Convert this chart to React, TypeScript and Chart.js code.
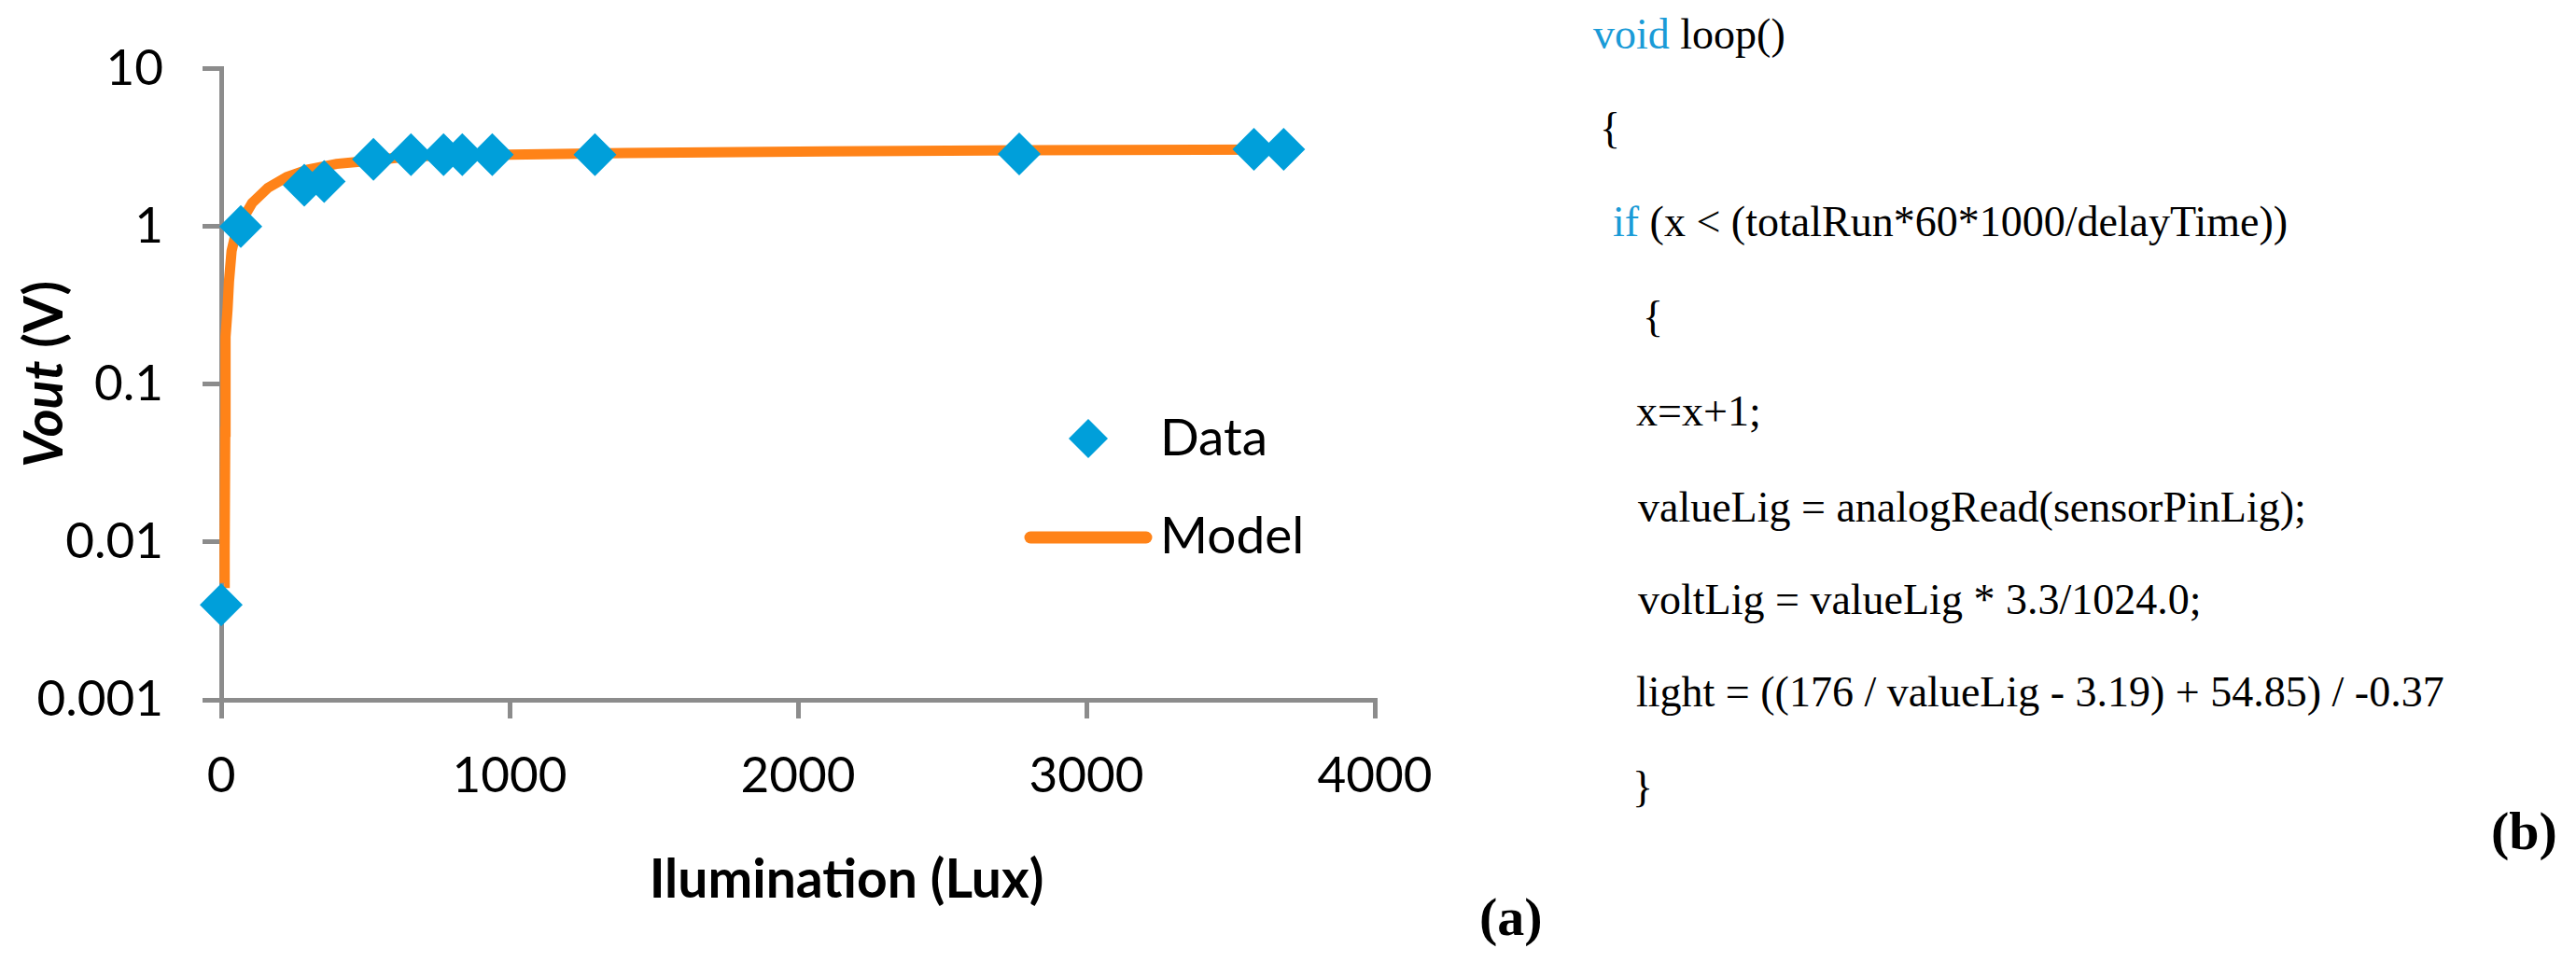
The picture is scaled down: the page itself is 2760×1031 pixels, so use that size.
import React, { useEffect, useRef } from 'react';
import { Chart, registerables } from 'chart.js';

Chart.register(...registerables);

// ---- data ----
const dataLux = [0, 68, 288, 357, 528, 658, 771, 836, 940, 1296, 2767, 3581, 3684];
const dataVout = [0.004, 1.0, 1.83, 1.93, 2.67, 2.86, 2.86, 2.86, 2.86, 2.86, 2.89, 3.09, 3.09];

const modelLux = [10, 12, 14, 15, 22, 27, 36, 50, 70, 107, 162, 227, 300, 400, 500, 650, 800, 1000, 1400, 2100, 2800, 3690];
const modelVout = [0.0055, 0.009, 0.05, 0.2, 0.3, 0.45, 0.7, 0.9, 1.08, 1.41, 1.76, 2.06, 2.3, 2.5, 2.6, 2.78, 2.83, 2.86, 2.93, 3.0, 3.05, 3.08];

const xTickValues = [0, 1000, 2000, 3000, 4000];
const xTickLabels = ['0', '1000', '2000', '3000', '4000'];
const yTickValues = [0.001, 0.01, 0.1, 1, 10];
const yTickLabels = ['0.001', '0.01', '0.1', '1', '10'];

const seriesNames = ['Data', 'Model'];
const xTitle = 'Ilumination (Lux)';
const yTitleItalic = 'Vout';
const yTitleRest = ' (V)';

const BLUE = '#009fda';
const ORANGE = '#ff8318';
const GREY = '#8c8c8c';

const codeLines: { x: number; y: number; parts: [string, boolean][] }[] = [
  { x: 1707, y: 37, parts: [['void', true], [' loop()', false]] },
  { x: 1714, y: 138, parts: [['{', false]] },
  { x: 1728, y: 238, parts: [['if', true], [' (x < (totalRun*60*1000/delayTime))', false]] },
  { x: 1760, y: 340, parts: [['{', false]] },
  { x: 1753, y: 441, parts: [['x=x+1;', false]] },
  { x: 1755, y: 544, parts: [['valueLig = analogRead(sensorPinLig);', false]] },
  { x: 1755, y: 643, parts: [['voltLig = valueLig * 3.3/1024.0;', false]] },
  { x: 1753, y: 742, parts: [['light = ((176 / valueLig - 3.19) + 54.85) / -0.37', false]] },
  { x: 1749, y: 844, parts: [['}', false]] },
];

const overlayPlugin = {
  id: 'overlay',
  afterDraw(chart: any) {
    const ctx = chart.ctx as CanvasRenderingContext2D;
    ctx.save();
    ctx.fillStyle = '#000';

    // X axis title
    ctx.font = 'bold 57px Lato';
    ctx.textAlign = 'center';
    ctx.textBaseline = 'alphabetic';
    ctx.fillText(xTitle, 907, 962);

    // Y axis title (rotated)
    ctx.save();
    ctx.translate(67, 401);
    ctx.rotate(-Math.PI / 2);
    ctx.font = 'italic bold 57px Lato';
    const w1 = ctx.measureText(yTitleItalic).width;
    ctx.font = 'bold 57px Lato';
    const w2 = ctx.measureText(yTitleRest).width;
    const start = -(w1 + w2) / 2;
    ctx.textAlign = 'left';
    ctx.font = 'italic bold 57px Lato';
    ctx.fillText(yTitleItalic, start, 0);
    ctx.font = 'bold 57px Lato';
    ctx.fillText(yTitleRest, start + w1, 0);
    ctx.restore();

    // Legend
    const ds = chart.data.datasets;
    ctx.fillStyle = ds[0].backgroundColor;
    const cx = 1166, cy = 470, r = 21;
    ctx.beginPath();
    ctx.moveTo(cx - r, cy);
    ctx.lineTo(cx, cy - r);
    ctx.lineTo(cx + r, cy);
    ctx.lineTo(cx, cy + r);
    ctx.closePath();
    ctx.fill();
    ctx.strokeStyle = ds[1].borderColor;
    ctx.lineWidth = 13;
    ctx.lineCap = 'round';
    ctx.beginPath();
    ctx.moveTo(1104, 576);
    ctx.lineTo(1228, 576);
    ctx.stroke();
    ctx.fillStyle = '#000';
    ctx.font = '55px Lato';
    ctx.textAlign = 'left';
    ctx.textBaseline = 'alphabetic';
    ctx.fillText(ds[0].label, 1243, 488);
    ctx.fillText(ds[1].label, 1243, 593);
    ctx.restore();
  },
};

function LuxChart() {
  const ref = useRef<HTMLCanvasElement>(null);
  useEffect(() => {
    if (!ref.current) return;
    const chart = new Chart(ref.current, {
      type: 'scatter',
      data: {
        datasets: [
          {
            label: seriesNames[0],
            data: dataLux.map((x, i) => ({ x, y: dataVout[i] })),
            pointStyle: 'rectRot',
            pointRadius: 23,
            pointHoverRadius: 23,
            backgroundColor: BLUE,
            borderColor: BLUE,
            borderWidth: 0,
            showLine: false,
            clip: false,
          },
          {
            label: seriesNames[1],
            data: modelLux.map((x, i) => ({ x, y: modelVout[i] })),
            showLine: true,
            pointRadius: 0,
            pointHoverRadius: 0,
            borderColor: ORANGE,
            backgroundColor: ORANGE,
            borderWidth: 11,
            tension: 0,
            clip: false,
          },
        ],
      } as any,
      options: {
        animation: false,
        responsive: false,
        devicePixelRatio: 1,
        events: [],
        layout: { padding: { left: 0, top: 47, right: 227, bottom: 0 } },
        plugins: { legend: { display: false }, tooltip: { enabled: false }, title: { display: false } },
        scales: {
          x: {
            type: 'linear',
            min: 0,
            max: 4000,
            afterBuildTicks: (scale: any) => {
              scale.ticks = xTickValues.map((v) => ({ value: v }));
            },
            afterFit: (scale: any) => {
              scale.height = 281;
            },
            ticks: {
              autoSkip: false,
              maxRotation: 0,
              padding: 30,
              color: '#000',
              font: { family: 'Lato', size: 53 },
              callback: (v: any) => xTickLabels[xTickValues.indexOf(v)],
            },
            grid: { drawOnChartArea: false, drawTicks: true, tickLength: 20, color: GREY, lineWidth: 5 },
            border: { display: true, color: GREY, width: 5 },
          },
          y: {
            type: 'logarithmic',
            min: 0.001,
            max: 10,
            afterBuildTicks: (scale: any) => {
              scale.ticks = yTickValues.map((v) => ({ value: v }));
            },
            afterFit: (scale: any) => {
              scale.width = 237;
            },
            ticks: {
              autoSkip: false,
              padding: 42,
              color: '#000',
              font: { family: 'Lato', size: 53 },
              callback: (v: any) => yTickLabels[yTickValues.indexOf(v)],
            },
            grid: { drawOnChartArea: false, drawTicks: true, tickLength: 20, color: GREY, lineWidth: 5 },
            border: { display: true, color: GREY, width: 5 },
          },
        },
      } as any,
      plugins: [overlayPlugin],
    });
    return () => chart.destroy();
  }, []);
  return (
    <canvas
      ref={ref}
      width={1700}
      height={1031}
      style={{ position: 'absolute', left: 0, top: 0, width: 1700, height: 1031 }}
    />
  );
}

export default function App() {
  return (
    <div style={{ position: 'absolute', left: 0, top: 0, width: 2760, height: 1031, background: '#fff', overflow: 'hidden' }}>
      <LuxChart />
      <div
        style={{
          position: 'absolute', left: 1585, top: 983 - 35, height: 70, lineHeight: '70px',
          fontFamily: '"Liberation Serif", "Times New Roman", serif', fontWeight: 'bold', fontSize: 58, color: '#000',
        }}
      >
        (a)
      </div>
      {codeLines.map((ln, i) => (
        <div
          key={i}
          style={{
            position: 'absolute', left: ln.x, top: ln.y - 30, height: 60, lineHeight: '60px',
            fontFamily: '"Liberation Serif", "Times New Roman", serif', fontSize: 46, whiteSpace: 'pre', color: '#000',
          }}
        >
          {ln.parts.map((p, j) => (
            <span key={j} style={{ color: p[1] ? '#1a9bd7' : '#000' }}>{p[0]}</span>
          ))}
        </div>
      ))}
      <div
        style={{
          position: 'absolute', left: 2669, top: 891 - 35, height: 70, lineHeight: '70px',
          fontFamily: '"Liberation Serif", "Times New Roman", serif', fontWeight: 'bold', fontSize: 58, color: '#000',
        }}
      >
        (b)
      </div>
    </div>
  );
}
